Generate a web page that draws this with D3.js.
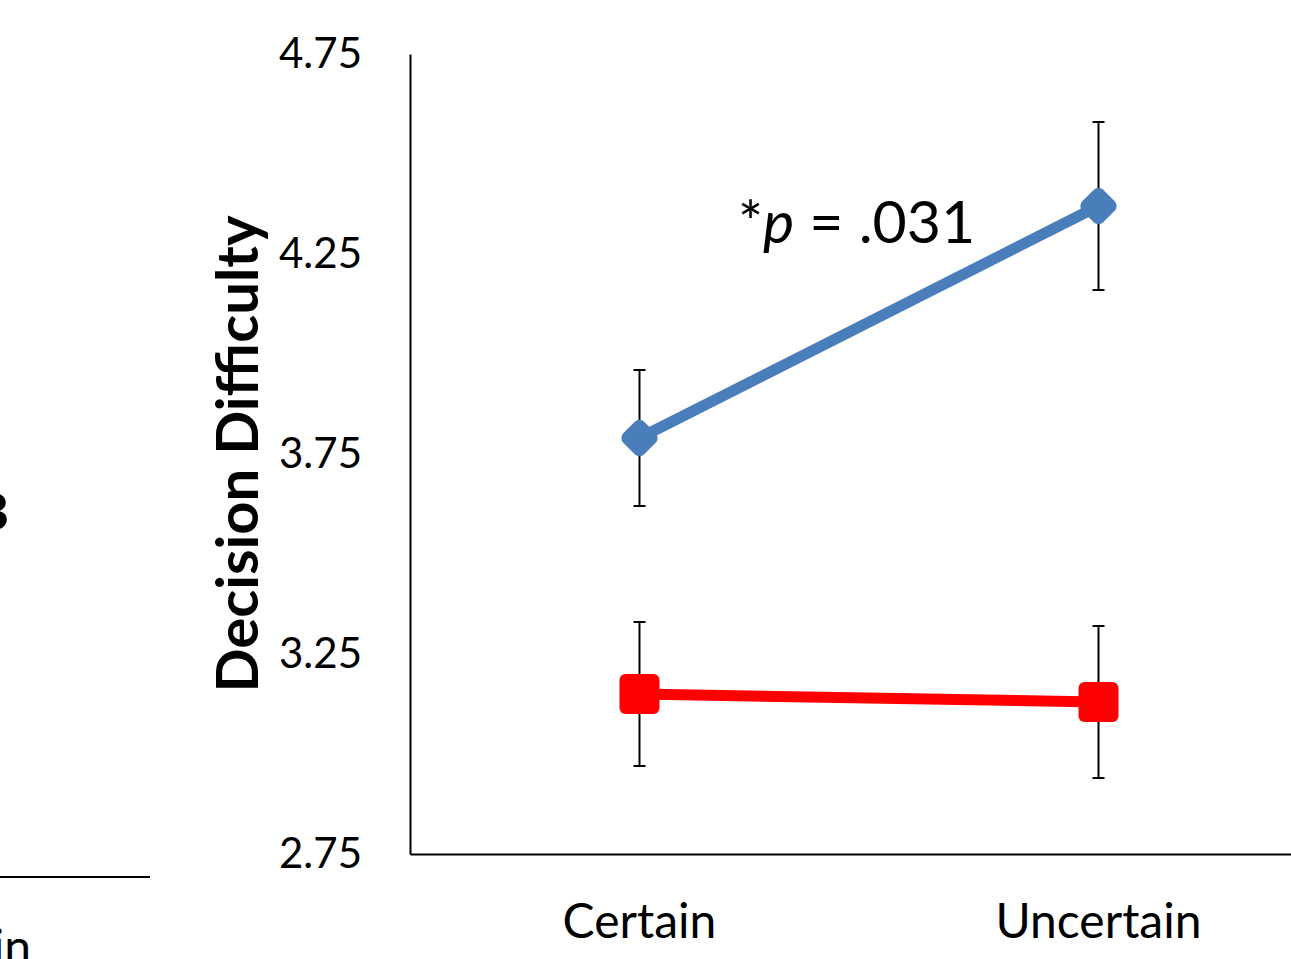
<!DOCTYPE html>
<html>
<head>
<meta charset="utf-8">
<script src="https://cdn.jsdelivr.net/npm/d3@7"></script>
<style>
  body { margin: 0; background: #fff; }
  svg { display: block; font-family: Lato, "Open Sans", sans-serif; }
</style>
</head>
<body>
<svg id="chart" width="1291" height="959"></svg>
<script>
// data
const categories = ['Certain', 'Uncertain']
const blueMeans = [3.79, 4.37]
const blueErr = [0.17, 0.21]
const redMeans = [3.15, 3.13]
const redErr = [0.18, 0.19]
const yTicks = [2.75, 3.25, 3.75, 4.25, 4.75]

const svg = d3.select('#chart')
const font = 'Lato, "Open Sans", sans-serif'

// scales
const x = d3.scaleBand()
    .domain(categories)
    .range([410, 1328])
const y = d3.scaleLinear()
    .domain([2.75, 4.75])
    .range([854, 54])

// axes
const yAxis = d3.axisLeft(y)
    .tickValues(yTicks)
    .tickFormat(d3.format('.2f'))
    .tickSize(0)
    .tickPadding(48)
svg.append('g')
    .attr('transform', 'translate(410,0)')
    .call(yAxis)
    .attr('font-family', font)
    .attr('font-size', 42)
    .call(g => g.select('.domain').attr('stroke', '#000').attr('stroke-width', 2))
    .call(g => g.selectAll('text').attr('fill', '#000'))

const xAxis = d3.axisBottom(x)
    .tickSize(0)
    .tickPadding(50)
svg.append('g')
    .attr('transform', 'translate(0,854)')
    .call(xAxis)
    .attr('font-family', font)
    .attr('font-size', 48)
    .call(g => g.select('.domain').attr('stroke', '#000').attr('stroke-width', 2))
    .call(g => g.selectAll('text').attr('fill', '#000'))

// axis title
svg.append('text')
    .attr('transform', `translate(258,${y(3.75)}) rotate(-90)`)
    .attr('text-anchor', 'middle')
    .attr('font-size', 58)
    .attr('font-weight', 'bold')
    .text('Decision Difficulty')

// leftover of the neighbouring panel
svg.append('line')
    .attr('x1', 0).attr('x2', 150)
    .attr('y1', 877).attr('y2', 877)
    .attr('stroke', '#000').attr('stroke-width', 2)
svg.append('text')
    .attr('x', 31).attr('y', 964)
    .attr('text-anchor', 'end')
    .attr('font-size', 48)
    .text('Uncertain')
svg.append('text')
    .attr('x', 9).attr('y', 530)
    .attr('text-anchor', 'end')
    .attr('font-size', 52)
    .attr('font-weight', 'bold')
    .text('B')

const cx = d => x(d) + x.bandwidth() / 2

function drawSeries(means, errs, color, shape) {
    const pts = categories.map((c, i) => ({ c, v: means[i], e: errs[i] }))
    const g = svg.append('g')

    g.append('path')
        .datum(pts)
        .attr('fill', 'none')
        .attr('stroke', color)
        .attr('stroke-width', 11)
        .attr('d', d3.line().x(d => cx(d.c)).y(d => y(d.v)))

    // error bars
    const eb = g.selectAll('g.err').data(pts).join('g').attr('class', 'err')
    eb.append('line')
        .attr('x1', d => cx(d.c)).attr('x2', d => cx(d.c))
        .attr('y1', d => y(d.v + d.e)).attr('y2', d => y(d.v - d.e))
        .attr('stroke', '#000').attr('stroke-width', 2)
    eb.selectAll('line.cap').data(d => [d.v + d.e, d.v - d.e].map(v => ({ c: d.c, v })))
        .join('line').attr('class', 'cap')
        .attr('x1', d => cx(d.c) - 6).attr('x2', d => cx(d.c) + 6)
        .attr('y1', d => y(d.v)).attr('y2', d => y(d.v))
        .attr('stroke', '#000').attr('stroke-width', 2)

    // markers
    g.selectAll('rect.mark').data(pts).join('rect')
        .attr('class', 'mark')
        .attr('x', -20).attr('y', -20)
        .attr('width', 40).attr('height', 40)
        .attr('rx', shape === 'diamond' ? 9 : 6)
        .attr('fill', color)
        .attr('transform', d => `translate(${cx(d.c)},${y(d.v)})` + (shape === 'diamond' ? ' rotate(45) scale(0.74)' : ''))
}

drawSeries(redMeans, redErr, '#ff0000', 'square')
drawSeries(blueMeans, blueErr, '#4a7ebb', 'diamond')

// significance note
const note = svg.append('text')
    .attr('x', 738).attr('y', 243)
    .attr('font-size', 59)
note.append('tspan').text('*')
note.append('tspan').attr('font-style', 'italic').text('p')
note.append('tspan').text(' = .031')
</script>
</body>
</html>
